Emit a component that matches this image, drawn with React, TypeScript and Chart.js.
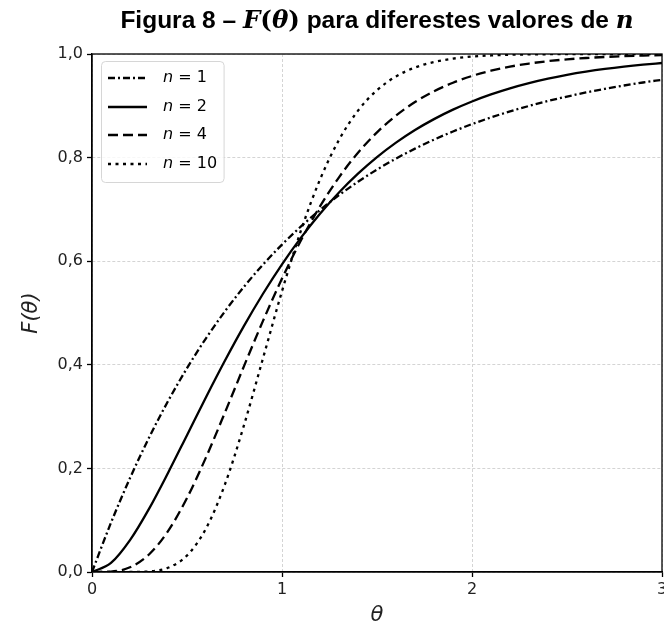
import React, { useEffect, useRef } from 'react';
import { Chart, registerables } from 'chart.js';

Chart.register(...registerables);

const thetaValues = [0, 0.1, 0.2, 0.3, 0.4, 0.5, 0.6, 0.7, 0.8, 0.9, 1.0, 1.1, 1.2, 1.3, 1.4, 1.5, 1.6, 1.7, 1.8, 1.9, 2.0, 2.1, 2.2, 2.3, 2.4, 2.5, 2.6, 2.7, 2.8, 2.9, 3.0];
const n1Values = [0, 0.0952, 0.1813, 0.2592, 0.3297, 0.3935, 0.4512, 0.5034, 0.5507, 0.5934, 0.6321, 0.6671, 0.6988, 0.7275, 0.7534, 0.7769, 0.7981, 0.8173, 0.8347, 0.8504, 0.8647, 0.8775, 0.8892, 0.8997, 0.9093, 0.9179, 0.9257, 0.9328, 0.9392, 0.945, 0.9502];
const n2Values = [0, 0.0175, 0.0616, 0.1219, 0.1912, 0.2642, 0.3374, 0.4082, 0.4751, 0.5372, 0.594, 0.6454, 0.6916, 0.7326, 0.7689, 0.8009, 0.8288, 0.8532, 0.8743, 0.8926, 0.9084, 0.922, 0.9337, 0.9437, 0.9523, 0.9596, 0.9658, 0.9711, 0.9756, 0.9794, 0.9826];
const n4Values = [0, 0.0008, 0.0091, 0.0338, 0.0788, 0.1429, 0.2213, 0.3081, 0.3975, 0.4848, 0.5665, 0.6405, 0.7058, 0.7619, 0.8094, 0.8488, 0.8811, 0.9072, 0.9281, 0.9446, 0.9576, 0.9677, 0.9756, 0.9816, 0.9862, 0.9897, 0.9923, 0.9943, 0.9958, 0.9969, 0.9977];
const n10Values = [0, 0, 0, 0.0011, 0.0081, 0.0318, 0.0839, 0.1695, 0.2834, 0.4126, 0.5421, 0.6595, 0.7576, 0.8342, 0.8906, 0.9301, 0.9567, 0.9739, 0.9846, 0.9911, 0.995, 0.9972, 0.9985, 0.9992, 0.9996, 0.9998, 0.9999, 0.9999, 1.0, 1.0, 1.0];

const nLabels = ['1', '2', '4', '10'];
const lineDashes: number[][] = [[7, 3, 2, 3], [], [10, 5], [3, 4.5]];
const seriesValues = [n1Values, n2Values, n4Values, n10Values];

const titleParts = [
  { text: 'Figura 8 – ', font: 'bold 24.5px "Liberation Sans", Arial, sans-serif' },
  { text: 'F', font: 'bold italic 24.5px "DejaVu Serif", serif' },
  { text: '(', font: 'bold 24.5px "DejaVu Serif", serif' },
  { text: 'θ', font: 'bold italic 24.5px "DejaVu Serif", serif' },
  { text: ')', font: 'bold 24.5px "DejaVu Serif", serif' },
  { text: ' para diferestes valores de ', font: 'bold 24.5px "Liberation Sans", Arial, sans-serif' },
  { text: 'n', font: 'bold italic 24.5px "DejaVu Serif", serif' },
];

const titlePlugin = {
  id: 'mixedTitle',
  afterDraw(chart: any) {
    const { ctx, chartArea } = chart;
    ctx.save();
    ctx.fillStyle = '#000';
    ctx.textBaseline = 'alphabetic';
    let total = 0;
    for (const p of titleParts) {
      ctx.font = p.font;
      total += ctx.measureText(p.text).width;
    }
    let x = (chartArea.left + chartArea.right) / 2 - total / 2;
    for (const p of titleParts) {
      ctx.font = p.font;
      ctx.fillText(p.text, x, 28);
      x += ctx.measureText(p.text).width;
    }
    ctx.restore();
  },
};

const frameAndLegendPlugin = {
  id: 'frameAndLegend',
  afterDraw(chart: any) {
    const { ctx, chartArea } = chart;
    ctx.save();
    ctx.strokeStyle = '#000';
    ctx.lineWidth = 1.3;
    ctx.setLineDash([]);
    ctx.strokeRect(chartArea.left, chartArea.top, chartArea.right - chartArea.left, chartArea.bottom - chartArea.top);

    const fontItalic = 'italic 16px "DejaVu Sans", sans-serif';
    const fontNormal = '16px "DejaVu Sans", sans-serif';
    const rowY = [78, 107, 135, 164];
    const textX = 163;
    let maxEnd = 0;
    ctx.font = fontItalic;
    const nW = ctx.measureText('n').width;
    ctx.font = fontNormal;
    for (const lab of nLabels) {
      const w = nW + ctx.measureText(' = ' + lab).width;
      maxEnd = Math.max(maxEnd, textX + w);
    }
    const bx = 101.5, by = 61.5, bw = maxEnd + 7 - bx, bh = 121;
    const r = 4;
    ctx.beginPath();
    ctx.moveTo(bx + r, by);
    ctx.lineTo(bx + bw - r, by);
    ctx.quadraticCurveTo(bx + bw, by, bx + bw, by + r);
    ctx.lineTo(bx + bw, by + bh - r);
    ctx.quadraticCurveTo(bx + bw, by + bh, bx + bw - r, by + bh);
    ctx.lineTo(bx + r, by + bh);
    ctx.quadraticCurveTo(bx, by + bh, bx, by + bh - r);
    ctx.lineTo(bx, by + r);
    ctx.quadraticCurveTo(bx, by, bx + r, by);
    ctx.closePath();
    ctx.fillStyle = 'rgba(255,255,255,0.8)';
    ctx.fill();
    ctx.strokeStyle = '#d6d6d6';
    ctx.lineWidth = 1;
    ctx.stroke();

    nLabels.forEach((lab, i) => {
      const y = rowY[i];
      ctx.beginPath();
      ctx.strokeStyle = '#000';
      ctx.lineWidth = 2.3;
      ctx.setLineDash(lineDashes[i]);
      ctx.moveTo(108, y);
      ctx.lineTo(147, y);
      ctx.stroke();
      ctx.setLineDash([]);
      ctx.fillStyle = '#000';
      ctx.textBaseline = 'middle';
      ctx.font = fontItalic;
      ctx.fillText('n', textX, y);
      ctx.font = fontNormal;
      ctx.fillText(' = ' + lab, textX + nW, y);
    });
    ctx.restore();
  },
};

export default function App() {
  const canvasRef = useRef<HTMLCanvasElement | null>(null);

  useEffect(() => {
    const canvas = canvasRef.current;
    if (!canvas) return;
    const datasets = seriesValues.map((vals, i) => ({
      label: 'n = ' + nLabels[i],
      data: thetaValues.map((t, j) => ({ x: t, y: vals[j] })),
      borderColor: '#000',
      backgroundColor: '#000',
      borderWidth: 2.3,
      borderDash: lineDashes[i],
      pointRadius: 0,
      fill: false,
      cubicInterpolationMode: 'monotone' as const,
    }));

    const chart = new Chart(canvas, {
      type: 'line',
      data: { datasets },
      plugins: [titlePlugin, frameAndLegendPlugin],
      options: {
        animation: false,
        responsive: false,
        maintainAspectRatio: false,
        layout: { padding: { top: 54, right: 38, left: 0, bottom: 0 } },
        plugins: {
          legend: { display: false },
          title: { display: false },
          tooltip: { enabled: false },
        },
        scales: {
          x: {
            type: 'linear',
            min: 0,
            max: 3,
            afterFit: (scale: any) => { scale.height = 69; },
            ticks: {
              stepSize: 1,
              color: '#222',
              font: { family: '"DejaVu Sans", sans-serif', size: 16 },
              padding: 3,
              maxRotation: 0,
              callback: (v: any) => String(v),
            },
            grid: {
              color: '#d4d4d4',
              lineWidth: 1,
              tickLength: 5,
              tickColor: '#000',
              tickWidth: 1.3,
              tickBorderDash: [],
            } as any,
            border: { display: true, color: '#000', width: 1.3, dash: [3, 2] },
            title: {
              display: true,
              text: 'θ',
              color: '#222',
              font: { family: '"DejaVu Sans", sans-serif', size: 21, style: 'italic' },
              padding: { top: 0, bottom: 13 },
            },
          },
          y: {
            type: 'linear',
            min: 0,
            max: 1,
            afterFit: (scale: any) => { scale.width = 92; },
            ticks: {
              stepSize: 0.2,
              color: '#222',
              font: { family: '"DejaVu Sans", sans-serif', size: 16 },
              padding: 4,
              callback: (v: any) => Number(v).toFixed(1).replace('.', ','),
            },
            grid: {
              color: '#d4d4d4',
              lineWidth: 1,
              tickLength: 5,
              tickColor: '#000',
              tickWidth: 1.3,
              tickBorderDash: [],
            } as any,
            border: { display: true, color: '#000', width: 1.3, dash: [3, 2] },
            title: {
              display: true,
              text: 'F(θ)',
              color: '#222',
              font: { family: '"DejaVu Sans", sans-serif', size: 21, style: 'italic' },
              padding: { top: 19, bottom: 0 },
            },
          },
        },
      },
    });
    return () => chart.destroy();
  }, []);

  return (
    <div style={{ position: 'fixed', left: 0, top: 0, width: 700, height: 641, background: '#fff' }}>
      <canvas ref={canvasRef} width={700} height={641} style={{ width: 700, height: 641, display: 'block' }} />
    </div>
  );
}
